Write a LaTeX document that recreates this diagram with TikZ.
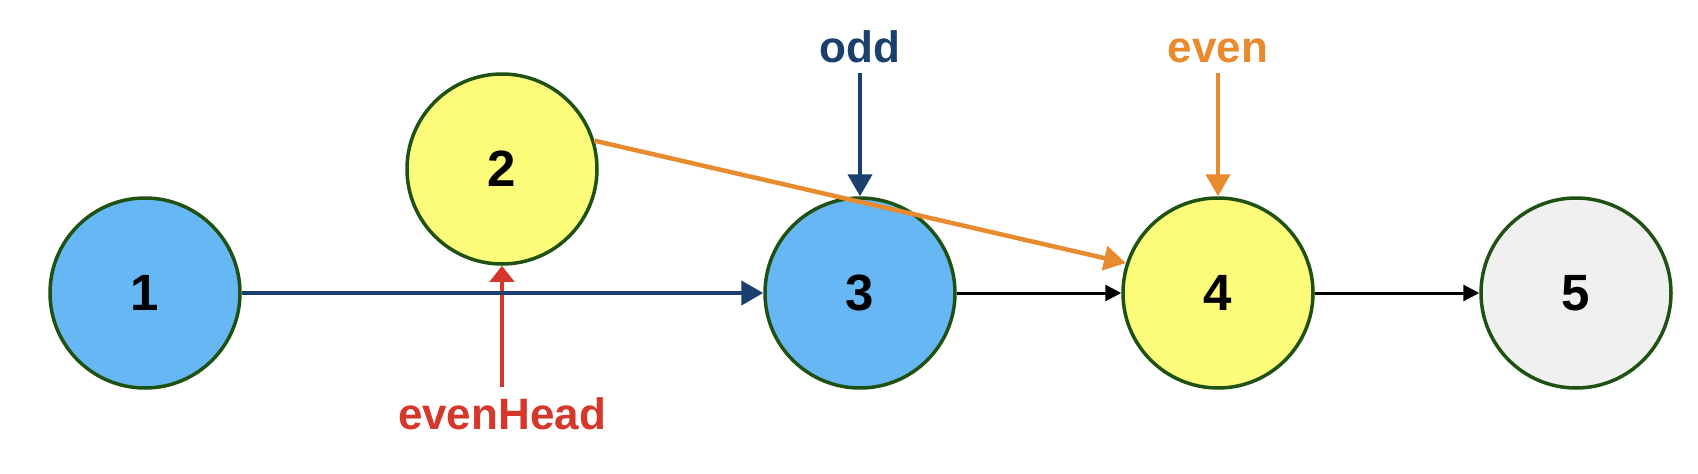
\documentclass[tikz,border=0pt]{standalone}
\usepackage{fontspec}
\setmainfont{Liberation Sans}
\usetikzlibrary{arrows.meta}
\definecolor{cblue}{HTML}{67B7F5}
\definecolor{cyellow}{HTML}{FDFB7A}
\definecolor{cgray}{HTML}{F0F0F0}
\definecolor{cborder}{HTML}{1F5212}
\definecolor{cnavy}{HTML}{1B3F6E}
\definecolor{corange}{HTML}{E88A2E}
\definecolor{cred}{HTML}{D6372B}
\tikzset{
  listnode/.style={circle, draw=cborder, line width=3.5pt, minimum size=190pt, inner sep=0pt,
    font=\fontsize{51}{54}\selectfont\bfseries},
  lbl/.style={anchor=base, inner sep=10pt, font=\fontsize{44}{48}\selectfont\bfseries},
  navyarrow/.style={draw=cnavy, line width=4.5pt, -{Triangle[length=22pt,width=24pt]}},
  orangearrow/.style={draw=corange, line width=4.5pt, -{Triangle[length=22pt,width=24pt]}},
  redarrow/.style={draw=cred, line width=4pt, -{Triangle[length=16pt,width=24pt]}},
  blackarrow/.style={draw=black, line width=3pt, -{Triangle[length=16pt,width=16pt]}},
}
\begin{document}
\begin{tikzpicture}[x=1pt,y=-1pt]
\useasboundingbox (0,0) rectangle (1698,474);
\node[listnode, fill=cblue] (n1) at (145,293) {1};
\node[listnode, fill=cyellow] (n2) at (502,169) {2};
\node[listnode, fill=cblue] (n3) at (860,293) {3};
\node[listnode, fill=cyellow] (n4) at (1218,293) {4};
\node[listnode, fill=cgray] (n5) at (1576,293) {5};
\node[lbl, text=cnavy] (odd) at (860,62) {odd};
\node[lbl, text=corange] (even) at (1218,62) {even};
\node[lbl, text=cred] (eh) at (502,429) {evenHead};
\draw[redarrow] (eh.north) -- (n2.south);
\draw[navyarrow] (n1.east) -- (n3.west);
\draw[blackarrow] (n3.east) -- (n4.west);
\draw[blackarrow] (n4.east) -- (n5.west);
\draw[navyarrow] (odd.south) -- (n3.north);
\draw[orangearrow] (even.south) -- (n4.north);
\draw[orangearrow] (n2.17) -- (n4.162);
\end{tikzpicture}
\end{document}
